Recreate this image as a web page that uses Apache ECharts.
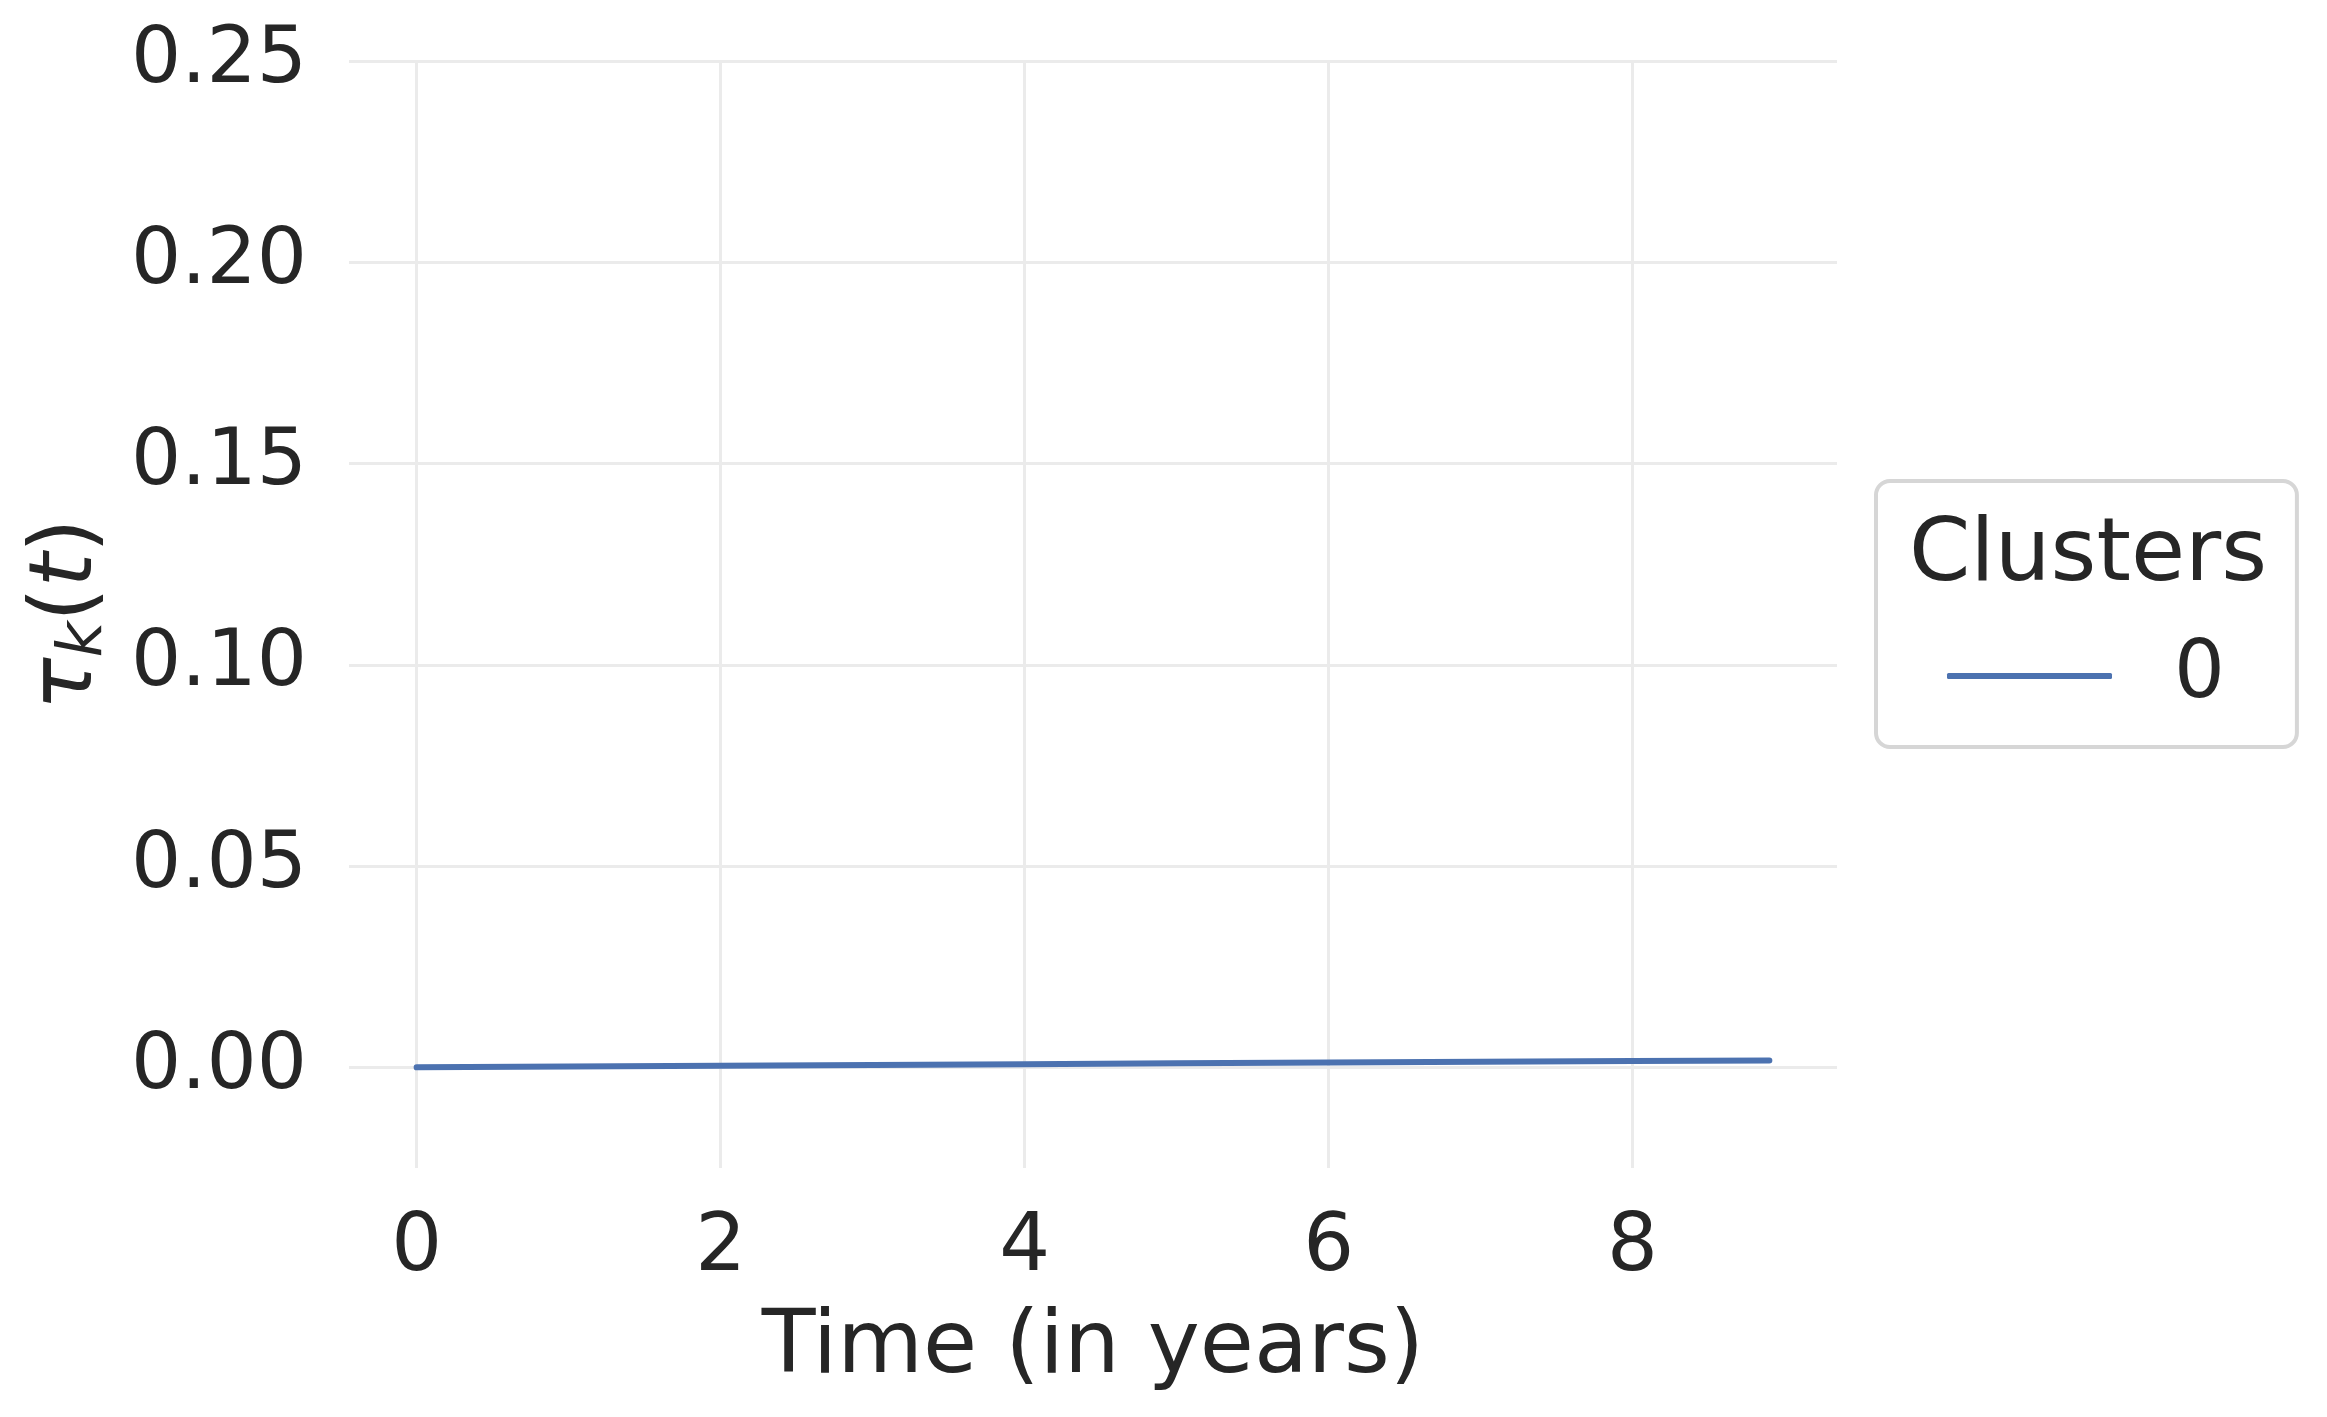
<!DOCTYPE html>
<html>
<head>
<meta charset="utf-8">
<script src="https://cdn.jsdelivr.net/npm/echarts@6/dist/echarts.min.js"></script>
<style>
  html, body { margin: 0; padding: 0; background: #fff; }
  #chart { width: 2327px; height: 1417px; }
</style>
</head>
<body>
<div id="chart"></div>
<script>
// time in years and tau_k(t) for cluster 0
const years = [0, 1, 2, 3, 4, 5, 6, 7, 8, 8.9];
const tau0 = [0.0000, 0.0002, 0.0004, 0.0006, 0.0008, 0.0010, 0.0012, 0.0014, 0.0016, 0.0017];
const clusterNames = ['0'];

const textColor = '#262626';
const gridColor = '#ebebeb';
const font = 'DejaVu Sans';

const chart = echarts.init(document.getElementById('chart'));

chart.setOption({
  backgroundColor: '#ffffff',
  animation: false,
  textStyle: { fontFamily: font, color: textColor },
  grid: { left: 349, right: 490, top: 61, bottom: 249, containLabel: false },
  xAxis: {
    type: 'value',
    min: -0.445,
    max: 9.345,
    splitNumber: 5,
    minInterval: 2,
    maxInterval: 2,
    name: 'Time (in years)',
    nameLocation: 'middle',
    nameGap: 137,
    nameTextStyle: { fontSize: 88, color: textColor, fontFamily: font },
    axisLine: { show: false },
    axisTick: { show: false },
    axisLabel: {
      fontSize: 80, color: textColor, fontFamily: font, margin: 41,
      showMinLabel: false, showMaxLabel: false
    },
    splitLine: {
      show: true, showMinLine: false, showMaxLine: false,
      lineStyle: { color: gridColor, width: 3 }
    }
  },
  yAxis: {
    type: 'value',
    min: -0.025,
    max: 0.25,
    splitNumber: 5,
    minInterval: 0.05,
    maxInterval: 0.05,
    name: '{tau|τ}{sub|k}{par|(}{tau|t}{par|)}',
    nameLocation: 'middle',
    nameRotate: 90,
    nameGap: 233,
    nameTextStyle: {
      fontFamily: font, color: textColor,
      rich: {
        tau: { fontSize: 88, fontStyle: 'italic', fontFamily: font, color: textColor },
        sub: { fontSize: 62, fontStyle: 'italic', fontFamily: font, color: textColor, verticalAlign: 'bottom', padding: [34, 0, 0, 0] },
        par: { fontSize: 88, fontFamily: font, color: textColor }
      }
    },
    axisLine: { show: false },
    axisTick: { show: false },
    axisLabel: {
      fontSize: 79, color: textColor, fontFamily: font, margin: 42,
      showMinLabel: false, showMaxLabel: true,
      formatter: v => v.toFixed(2)
    },
    splitLine: {
      show: true, showMinLine: false, showMaxLine: true,
      lineStyle: { color: gridColor, width: 3 }
    }
  },
  legend: {
    data: clusterNames,
    orient: 'vertical',
    left: 1876,
    top: 481,
    padding: [155, 72, 31, 71],
    borderColor: '#d6d6d6',
    borderWidth: 4,
    borderRadius: 14,
    backgroundColor: '#ffffff',
    itemWidth: 165,
    itemHeight: 6,
    icon: 'roundRect',
    itemStyle: { color: '#4c72b0' },
    textStyle: { fontSize: 80, color: textColor, fontFamily: font, padding: [0, 0, 0, 57] }
  },
  graphic: [{
    type: 'text',
    x: 2088,
    y: 557,
    z: 100,
    style: {
      text: 'Clusters',
      fontSize: 88,
      fontFamily: font,
      fill: textColor,
      align: 'center',
      verticalAlign: 'middle'
    }
  }],
  series: [{
    name: clusterNames[0],
    type: 'line',
    data: years.map((t, i) => [t, tau0[i]]),
    symbol: 'none',
    lineStyle: { color: '#4c72b0', width: 6, cap: 'round' },
    itemStyle: { color: '#4c72b0' }
  }]
});
</script>
</body>
</html>
